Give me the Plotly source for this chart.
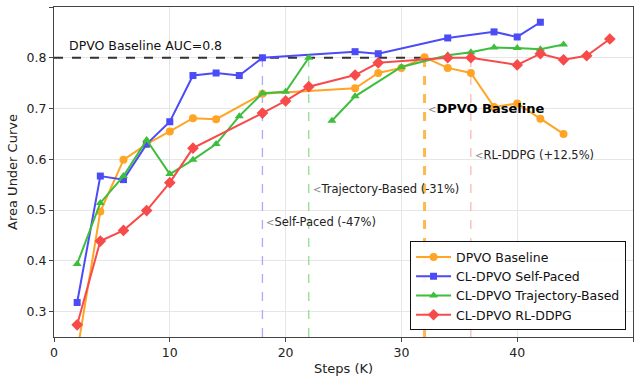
import plotly.graph_objects as go

# ---------------- data ----------------
base_x = [2, 4, 6, 8, 10, 12, 14, 18, 26, 28, 30, 32, 34, 36, 38, 40, 42, 44]
base_y = [0.22, 0.497, 0.599, 0.63, 0.655, 0.681, 0.679, 0.729, 0.740, 0.770, 0.780, 0.801, 0.780, 0.770, 0.703, 0.710, 0.680, 0.650]

self_x = [2, 4, 6, 8, 10, 12, 14, 16, 18, 26, 28, 34, 38, 40, 42]
self_y = [0.318, 0.567, 0.560, 0.630, 0.674, 0.765, 0.770, 0.765, 0.800, 0.812, 0.808, 0.839, 0.851, 0.841, 0.870]

traj_x = [2, 4, 6, 8, 10, 12, 14, 16, 18, 20, 22, 23, 24, 26, 30, 34, 36, 38, 40, 42, 44]
traj_y = [0.394, 0.514, 0.567, 0.638, 0.571, 0.599, 0.630, 0.685, 0.730, 0.733, 0.800, None, 0.676, 0.724, 0.782, 0.805, 0.811, 0.820, 0.819, 0.817, 0.826]

rl_x = [2, 4, 6, 8, 10, 12, 18, 20, 22, 26, 28, 34, 36, 40, 42, 44, 46, 48]
rl_y = [0.274, 0.439, 0.460, 0.499, 0.554, 0.622, 0.691, 0.715, 0.743, 0.766, 0.790, 0.800, 0.800, 0.786, 0.808, 0.796, 0.804, 0.837]

baseline_auc = 0.8
reach_steps = [18, 22, 32, 36]          # self-paced, trajectory, baseline, rl
reach_labels = ["Self-Paced (-47%)", "Trajectory-Based (-31%)", "DPVO Baseline", "RL-DDPG (+12.5%)"]
label_y = [0.477, 0.542, 0.700, 0.609]

x_ticks = [0, 10, 20, 30, 40, 50]
y_ticks = [0.3, 0.4, 0.5, 0.6, 0.7, 0.8, 0.9]

# ---------------- style ----------------
C_OR = "#FFA424"
C_BL = "#4B4BF7"
C_GR = "#3DBE3D"
C_RD = "#F74B4B"
FONT = "DejaVu Sans"

fig = go.Figure()

# threshold verticals
vcols = ["#A9A9FF", "#8FDF8F", "#FFB84D", "#FFA3A3"]
vw = [1.3, 1.3, 3, 1]
for xs, c, w in zip(reach_steps, vcols, vw):
    fig.add_trace(go.Scatter(x=[xs, xs], y=[0.25, baseline_auc], mode="lines",
                             line=dict(color=c, width=w, dash="dash"), showlegend=False, hoverinfo="skip"))

# baseline horizontal
fig.add_trace(go.Scatter(x=[0, reach_steps[2]], y=[baseline_auc, baseline_auc], mode="lines",
                         line=dict(color="#333333", width=2, dash="dash"), showlegend=False, hoverinfo="skip"))

fig.add_trace(go.Scatter(x=base_x, y=base_y, mode="lines+markers", name="DPVO Baseline",
                         line=dict(color=C_OR, width=2), marker=dict(symbol="circle", size=8, color=C_OR)))
fig.add_trace(go.Scatter(x=self_x, y=self_y, mode="lines+markers", name="CL-DPVO Self-Paced",
                         line=dict(color=C_BL, width=2), marker=dict(symbol="square", size=7, color=C_BL)))
fig.add_trace(go.Scatter(x=traj_x, y=traj_y, mode="lines+markers", name="CL-DPVO Trajectory-Based",
                         connectgaps=False,
                         line=dict(color=C_GR, width=2), marker=dict(symbol="triangle-up", size=8, color=C_GR)))
fig.add_trace(go.Scatter(x=rl_x, y=rl_y, mode="lines+markers", name="CL-DPVO RL-DDPG",
                         line=dict(color=C_RD, width=2), marker=dict(symbol="diamond", size=9, color=C_RD)))

annotations = [dict(x=1.1, y=0.825, xref="x", yref="y", text="DPVO Baseline AUC=0.8", showarrow=False,
                    xanchor="left", yanchor="middle", font=dict(family=FONT, size=12.5, color="#111"))]
for xs, lab, ly in zip(reach_steps, reach_labels, label_y):
    bold = lab == "DPVO Baseline"
    txt = "<span style='color:#888;font-size:10px'>&lt;</span>" + ("<b>%s</b>" % lab if bold else lab)
    annotations.append(dict(x=xs + 0.15, y=ly, xref="x", yref="y", text=txt, showarrow=False,
                            xanchor="left", yanchor="middle",
                            font=dict(family=FONT, size=13 if bold else 11.5, color="#000" if bold else "#222")))

fig.update_layout(
    width=639, height=386,
    margin=dict(l=54, r=6, t=7, b=49, autoexpand=False),
    paper_bgcolor="white", plot_bgcolor="white",
    font=dict(family=FONT, size=12, color="#222"),
    annotations=annotations,
    legend=dict(x=0.988, y=0.02, xanchor="right", yanchor="bottom",
                bordercolor="#111", borderwidth=1, bgcolor="rgba(255,255,255,0.9)",
                font=dict(family=FONT, size=12.5, color="#111"),
                tracegroupgap=0, itemwidth=35),
    xaxis=dict(range=[0, 50], tickvals=x_ticks, automargin=False,
               title=dict(text="Steps (K)", font=dict(size=13), standoff=4),
               showgrid=True, gridcolor="#E6E6E6", gridwidth=1, zeroline=False,
               showline=True, linecolor="#444", linewidth=1, mirror=True,
               ticks="outside", ticklen=4, tickcolor="#444", tickfont=dict(size=12.5)),
    yaxis=dict(range=[0.25, 0.9], tickvals=y_ticks, tickformat=".1f", automargin=False,
               title=dict(text="Area Under Curve", font=dict(size=13), standoff=6),
               showgrid=True, gridcolor="#E6E6E6", gridwidth=1, zeroline=False,
               showline=True, linecolor="#444", linewidth=1, mirror=True,
               ticks="outside", ticklen=4, tickcolor="#444", tickfont=dict(size=12.5)),
)

fig.write_html("out.html")
